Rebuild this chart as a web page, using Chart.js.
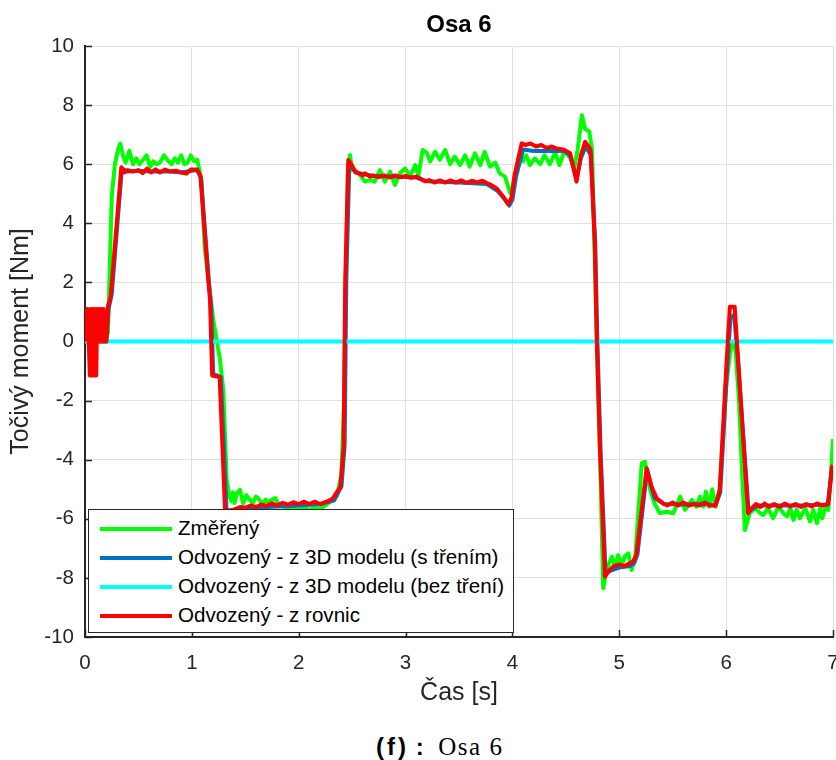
<!DOCTYPE html>
<html>
<head>
<meta charset="utf-8">
<title>Osa 6</title>
<script src="https://cdn.jsdelivr.net/npm/chart.js@4.4.1/dist/chart.umd.min.js"></script>
<style>
  html, body { margin: 0; padding: 0; background: #fff; }
  #wrap { position: relative; width: 836px; height: 760px; overflow: hidden; }
  #plot { position: absolute; left: 0; top: 0; }
  #legend {
    position: absolute; left: 88px; top: 509px; width: 424px; height: 122px;
    border: 1px solid #262626; background: #fff;
    font: 20.6px "Liberation Sans", Arial, Helvetica, sans-serif; color: #000;
  }
  #legend .item { position: absolute; left: 0; height: 28px; width: 100%; }
  #legend .swatch { position: absolute; left: 11px; top: 12px; width: 72px; height: 4px; }
  #legend .label { position: absolute; left: 89px; top: 1px; line-height: 24px; white-space: nowrap; }
  #caption {
    position: absolute; left: 376px; top: 733px; white-space: nowrap; color: #000;
    font: bold 24px "Liberation Sans", Arial, sans-serif;
  }
  #caption .paren { letter-spacing: 3px; }
  #caption .serif { font: normal 25px "Liberation Serif", "DejaVu Serif", serif; letter-spacing: 1.5px; margin-left: 8px; }
</style>
</head>
<body>
<div id="wrap">
  <canvas id="plot" width="836" height="712"></canvas>
  <div id="legend"></div>
  <div id="caption"><span class="paren">(f)</span> : <span class="serif">Osa 6</span></div>
</div>
<script>
// Axis 6 joint torque [Nm] over time [s]; each point is [time, torque].
const measured = [
  [0,0.05],[0.03,-0.05],[0.06,0.05],[0.09,0],[0.12,0.05],[0.15,0.1],[0.18,0.08],[0.2,0.15],[0.215,0.3],
  [0.25,4.9],[0.28,6.0],[0.31,6.5],[0.33,6.7],[0.355,6.3],[0.38,6.05],[0.415,6.45],[0.45,6.0],[0.48,6.2],
  [0.51,6.0],[0.545,6.15],[0.577,6.3],[0.61,5.9],[0.64,6.1],[0.67,6.0],[0.7,6.05],[0.74,6.3],[0.77,6.15],
  [0.81,6.0],[0.84,6.2],[0.87,6.05],[0.9,6.3],[0.93,6.0],[0.96,6.05],[0.99,6.3],[1.02,6.1],[1.05,6.15],
  [1.09,5.47],[1.12,3.2],[1.155,2.08],[1.2,0.73],[1.263,-0.6],[1.294,-1.64],[1.326,-4.7],[1.35,-5.2],
  [1.37,-5.4],[1.385,-5.1],[1.4,-5.47],[1.42,-5.14],[1.45,-5.02],[1.48,-5.47],[1.51,-5.2],[1.53,-5.3],
  [1.57,-5.47],[1.6,-5.25],[1.62,-5.3],[1.66,-5.5],[1.69,-5.35],[1.72,-5.45],[1.75,-5.35],[1.78,-5.3],
  [1.82,-5.55],[1.86,-5.6],[1.9,-5.65],[1.95,-5.58],[2.0,-5.7],[2.05,-5.6],[2.1,-5.7],[2.15,-5.6],
  [2.2,-5.65],[2.25,-5.55],[2.3,-5.4],[2.36,-5.2],[2.4,-4.5],[2.425,-2.0],[2.44,2.0],[2.46,5.8],[2.48,6.31],
  [2.5,5.8],[2.527,5.8],[2.574,5.63],[2.62,5.41],[2.667,5.47],[2.71,5.41],[2.76,5.8],[2.807,5.41],
  [2.854,5.75],[2.9,5.3],[2.948,5.7],[2.995,5.86],[3.042,5.6],[3.09,5.97],[3.12,5.6],[3.16,6.48],[3.2,6.38],
  [3.23,6.09],[3.277,6.42],[3.32,6.15],[3.37,6.48],[3.416,6.0],[3.46,6.26],[3.51,5.97],[3.557,6.3],[3.6,5.92],
  [3.65,6.37],[3.7,5.97],[3.74,6.42],[3.79,5.92],[3.84,6.05],[3.88,5.69],[3.93,5.58],[3.98,5.02],[4.0,5.2],
  [4.035,5.8],[4.07,6.4],[4.1,6.1],[4.13,6.3],[4.164,5.97],[4.21,6.2],[4.26,6.0],[4.3,6.3],[4.35,6.0],
  [4.4,6.4],[4.44,5.97],[4.49,6.48],[4.54,6.2],[4.58,5.92],[4.61,6.48],[4.65,7.66],[4.68,7.2],[4.72,7.1],
  [4.745,6.5],[4.79,0],[4.82,-4.0],[4.85,-8.35],[4.88,-7.73],[4.93,-7.28],[4.96,-7.62],[4.99,-7.23],
  [5.02,-7.62],[5.05,-7.28],[5.085,-7.17],[5.115,-7.73],[5.15,-7.28],[5.21,-4.12],[5.24,-4.07],[5.29,-5.02],
  [5.33,-5.48],[5.38,-5.81],[5.44,-5.76],[5.505,-5.81],[5.57,-5.25],[5.615,-5.7],[5.68,-5.36],[5.72,-5.59],
  [5.755,-5.25],[5.786,-5.59],[5.81,-5.08],[5.84,-5.59],[5.87,-5.0],[5.9,-5.59],[5.94,-5.0],[6.0,-1.5],
  [6.04,-0.3],[6.07,0.0],[6.09,-0.4],[6.12,-2.0],[6.15,-4.5],[6.176,-6.38],[6.22,-5.81],[6.27,-5.64],
  [6.317,-5.81],[6.35,-5.87],[6.39,-5.64],[6.44,-5.98],[6.49,-5.59],[6.535,-5.81],[6.57,-5.92],[6.6,-5.64],
  [6.63,-6.04],[6.66,-5.7],[6.69,-5.98],[6.74,-5.64],[6.785,-6.09],[6.815,-5.7],[6.85,-6.15],[6.88,-5.64],
  [6.9,-5.98],[6.93,-5.59],[6.956,-5.7],[6.987,-4.12],[7.0,-3.3]
];

const modelWithFriction = [
  [0,0],[0.2,0],[0.22,1.1],[0.25,1.6],[0.345,5.85],[0.4,5.75],[0.5,5.78],[0.6,5.75],[0.7,5.75],[0.8,5.75],
  [0.9,5.72],[1.0,5.78],[1.05,5.8],[1.085,5.55],[1.16,2.0],[1.18,1.2],[1.2,-1.1],[1.27,-1.2],[1.325,-5.75],
  [1.4,-5.72],[1.6,-5.62],[1.8,-5.58],[2.0,-5.55],[2.2,-5.5],[2.33,-5.38],[2.4,-4.9],[2.43,-3.5],[2.445,2.0],
  [2.474,6.05],[2.53,5.72],[2.7,5.6],[2.9,5.58],[3.1,5.55],[3.2,5.42],[3.5,5.38],[3.76,5.33],[3.86,5.1],
  [3.92,4.85],[3.97,4.6],[4.0,4.8],[4.035,5.6],[4.1,6.5],[4.2,6.45],[4.3,6.45],[4.4,6.45],[4.48,6.45],
  [4.54,6.3],[4.6,5.5],[4.64,6.2],[4.685,6.6],[4.735,6.3],[4.775,3.3],[4.795,0],[4.825,-3.7],[4.872,-7.85],
  [4.92,-7.75],[5.0,-7.65],[5.1,-7.6],[5.14,-7.5],[5.17,-7.2],[5.26,-4.35],[5.33,-5.3],[5.42,-5.5],
  [5.6,-5.52],[5.8,-5.5],[5.9,-5.55],[5.945,-5.1],[6.005,-1.2],[6.04,0.8],[6.075,0.9],[6.11,-0.6],
  [6.21,-5.75],[6.3,-5.55],[6.5,-5.55],[6.7,-5.55],[6.95,-5.52],[6.99,-4.3],[7.0,-4.25]
];

const modelWithoutFriction = [[0,0],[7,0]];

const fromEquations = [
  [0,0],[0.01,1.1],[0.025,1.1],[0.035,0],[0.045,-1.15],[0.055,1.1],[0.065,-1.15],[0.075,1.1],[0.085,-1.15],
  [0.095,1.1],[0.105,-1.15],[0.115,1.1],[0.125,0],[0.135,1.1],[0.145,0],[0.155,1.1],[0.165,0],[0.175,1.1],
  [0.185,0],[0.2,0],[0.215,1.2],[0.24,1.5],[0.34,5.9],[0.37,5.72],[0.4,5.8],[0.45,5.75],[0.5,5.8],
  [0.54,5.7],[0.58,5.85],[0.62,5.72],[0.66,5.83],[0.7,5.72],[0.75,5.82],[0.8,5.75],[0.85,5.78],[0.9,5.72],
  [0.95,5.68],[0.99,5.82],[1.05,5.82],[1.08,5.6],[1.154,2.08],[1.17,1.4],[1.19,-1.15],[1.26,-1.2],
  [1.31,-5.7],[1.35,-5.72],[1.4,-5.68],[1.45,-5.6],[1.5,-5.62],[1.55,-5.55],[1.6,-5.6],[1.65,-5.52],
  [1.7,-5.56],[1.75,-5.48],[1.8,-5.55],[1.85,-5.46],[1.9,-5.52],[1.95,-5.44],[2.0,-5.5],[2.05,-5.42],
  [2.1,-5.5],[2.15,-5.42],[2.2,-5.5],[2.26,-5.42],[2.32,-5.31],[2.39,-4.91],[2.42,-3.56],[2.435,2.0],
  [2.464,6.14],[2.5,5.95],[2.527,5.75],[2.56,5.7],[2.6,5.62],[2.62,5.69],[2.667,5.58],[2.7,5.62],
  [2.75,5.56],[2.8,5.62],[2.85,5.55],[2.9,5.62],[2.95,5.56],[3.0,5.6],[3.05,5.54],[3.1,5.58],[3.135,5.52],
  [3.18,5.42],[3.22,5.46],[3.27,5.38],[3.32,5.45],[3.37,5.38],[3.42,5.45],[3.47,5.38],[3.52,5.45],
  [3.57,5.37],[3.62,5.44],[3.67,5.38],[3.72,5.44],[3.76,5.36],[3.8,5.3],[3.853,5.18],[3.914,4.9],
  [3.96,4.65],[3.99,4.85],[4.02,5.63],[4.087,6.71],[4.12,6.65],[4.17,6.7],[4.22,6.6],[4.27,6.65],
  [4.32,6.55],[4.37,6.6],[4.42,6.52],[4.476,6.5],[4.54,6.37],[4.6,5.41],[4.64,6.3],[4.68,6.76],[4.73,6.5],
  [4.77,3.43],[4.79,0],[4.82,-3.7],[4.866,-7.96],[4.91,-7.73],[4.95,-7.6],[5.0,-7.55],[5.05,-7.6],
  [5.1,-7.5],[5.13,-7.45],[5.16,-7.2],[5.256,-4.29],[5.3,-4.9],[5.35,-5.31],[5.41,-5.48],[5.45,-5.55],
  [5.5,-5.45],[5.55,-5.55],[5.6,-5.45],[5.65,-5.55],[5.7,-5.5],[5.75,-5.55],[5.8,-5.45],[5.85,-5.55],
  [5.9,-5.55],[5.94,-5.03],[6.0,-0.96],[6.035,1.18],[6.08,1.18],[6.11,-0.51],[6.205,-5.81],[6.24,-5.64],
  [6.28,-5.5],[6.32,-5.6],[6.36,-5.48],[6.4,-5.6],[6.45,-5.5],[6.5,-5.6],[6.55,-5.48],[6.6,-5.58],
  [6.65,-5.5],[6.7,-5.6],[6.75,-5.5],[6.8,-5.58],[6.85,-5.48],[6.9,-5.55],[6.956,-5.5],[6.99,-4.24],[7.0,-4.2]
];

const seriesNames = [
  'Změřený',
  'Odvozený - z 3D modelu (s třením)',
  'Odvozený - z 3D modelu (bez tření)',
  'Odvozený - z rovnic'
];
const seriesColors = ['#00ff00', '#0072bd', '#00ffff', '#ff0000'];

const xTicks = [0, 1, 2, 3, 4, 5, 6, 7];
const yTicks = [-10, -8, -6, -4, -2, 0, 2, 4, 6, 8, 10];

const FONT = '"Liberation Sans", Arial, Helvetica, sans-serif';
const AXIS_COLOR = '#262626';

const toXY = pts => pts.map(p => ({ x: p[0], y: p[1] }));
const allSeries = [measured, modelWithFriction, modelWithoutFriction, fromEquations];

// later series sit on top: the lowest "order" is drawn last
const datasets = allSeries.map((pts, i) => ({
  label: seriesNames[i],
  data: toXY(pts),
  borderColor: seriesColors[i],
  backgroundColor: seriesColors[i],
  borderWidth: 4,
  pointRadius: 0,
  tension: 0,
  fill: false,
  borderJoinStyle: 'round',
  borderCapStyle: 'butt',
  order: allSeries.length - i
}));

// short tick marks pointing into the plot area
const innerTicks = {
  id: 'innerTicks',
  beforeDatasetsDraw(chart) {
    const { ctx, chartArea: a, scales: { x, y } } = chart;
    ctx.save();
    ctx.strokeStyle = AXIS_COLOR;
    ctx.lineWidth = 1.5;
    ctx.beginPath();
    y.ticks.forEach(t => {
      const py = Math.round(y.getPixelForValue(t.value)) + 0.5;
      ctx.moveTo(a.left, py);
      ctx.lineTo(a.left + 7, py);
    });
    x.ticks.forEach(t => {
      const px = Math.round(x.getPixelForValue(t.value)) + 0.5;
      ctx.moveTo(px, a.bottom);
      ctx.lineTo(px, a.bottom - 7);
    });
    ctx.stroke();
    ctx.restore();
  }
};

new Chart(document.getElementById('plot'), {
  type: 'line',
  data: { datasets },
  plugins: [innerTicks],
  options: {
    responsive: false,
    animation: false,
    events: [],
    layout: { padding: { left: 0, right: 3, top: 0, bottom: 0 } },
    plugins: {
      legend: { display: false },
      tooltip: { enabled: false },
      title: {
        display: true,
        text: 'Osa 6',
        fullSize: false,
        color: '#000',
        font: { family: FONT, size: 24, weight: 'bold', lineHeight: 1.2 },
        padding: { top: 10.6, bottom: 6.6 }
      }
    },
    scales: {
      x: {
        type: 'linear',
        min: 0,
        max: 7,
        afterBuildTicks: s => { s.ticks = xTicks.map(v => ({ value: v })); },
        afterFit: s => { s.height = 75; s.paddingLeft = 0; s.paddingRight = 0; },
        ticks: {
          color: AXIS_COLOR,
          font: { family: FONT, size: 20.5, lineHeight: 1.2 },
          padding: 14,
          maxRotation: 0,
          callback: v => String(v)
        },
        grid: { color: '#e0e0e0', lineWidth: 1, drawTicks: false },
        border: { display: true, color: AXIS_COLOR, width: 2 },
        title: {
          display: true,
          text: 'Čas [s]',
          color: AXIS_COLOR,
          font: { family: FONT, size: 25, lineHeight: 1.2 },
          padding: { top: 0, bottom: 4 }
        }
      },
      y: {
        type: 'linear',
        min: -10,
        max: 10,
        afterBuildTicks: s => { s.ticks = yTicks.map(v => ({ value: v })); },
        afterFit: s => { s.width = 85; s.paddingTop = 0; s.paddingBottom = 0; },
        ticks: {
          color: AXIS_COLOR,
          font: { family: FONT, size: 20.5, lineHeight: 1.2 },
          padding: 11,
          callback: v => String(v)
        },
        grid: { color: '#e0e0e0', lineWidth: 1, drawTicks: false },
        border: { display: true, color: AXIS_COLOR, width: 2 },
        title: {
          display: true,
          text: 'Točivý moment [Nm]',
          color: AXIS_COLOR,
          font: { family: FONT, size: 25, lineHeight: 1.2 },
          padding: { top: 6.5, bottom: 0 }
        }
      }
    }
  }
});

// legend box inside the plot, built from the series names and colours
const legend = document.getElementById('legend');
seriesNames.forEach((name, i) => {
  const item = document.createElement('div');
  item.className = 'item';
  item.style.top = (5 + i * 28.9) + 'px';
  const sw = document.createElement('div');
  sw.className = 'swatch';
  sw.style.background = seriesColors[i];
  const lab = document.createElement('div');
  lab.className = 'label';
  lab.textContent = name;
  item.appendChild(sw);
  item.appendChild(lab);
  legend.appendChild(item);
});
</script>
</body>
</html>
